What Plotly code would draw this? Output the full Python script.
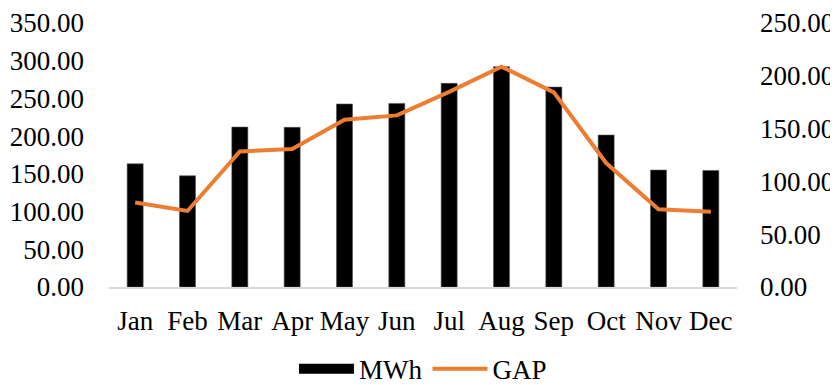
import plotly.graph_objects as go

months = ["Jan", "Feb", "Mar", "Apr", "May", "Jun", "Jul", "Aug", "Sep", "Oct", "Nov", "Dec"]
mwh = [163.3, 147.4, 212.0, 211.7, 242.6, 243.4, 270.0, 292.0, 265.0, 201.4, 155.0, 154.5]
gap = [80.0, 72.0, 128.4, 130.6, 158.4, 162.5, 184.8, 208.7, 184.3, 117.4, 73.7, 71.2]
left_ticks = [0, 50, 100, 150, 200, 250, 300, 350]
right_ticks = [0, 50, 100, 150, 200, 250]

FONT = "Liberation Serif"
FS = 27

fig = go.Figure()
fig.add_trace(go.Bar(x=months, y=mwh, name="MWh", marker=dict(color="black", line=dict(color="#555555", width=0.6)),
                     showlegend=False, yaxis="y"))
fig.add_trace(go.Scatter(x=[None], y=[None], mode="lines", name="MWh",
                         line=dict(color="black", width=14), yaxis="y"))
fig.add_trace(go.Scatter(x=months, y=gap, name="GAP", mode="lines",
                         line=dict(color="#ED7D31", width=4), yaxis="y2"))

fig.update_layout(
    width=830, height=377,
    margin=dict(l=101, r=101, t=15, b=98),
    paper_bgcolor="white", plot_bgcolor="white",
    font=dict(family=FONT, size=FS, color="black"),
    bargap=0.694,
    showlegend=True,
    legend=dict(orientation="h", x=0.5, xanchor="center", xref="paper",
                y=0.042, yanchor="middle", yref="container",
                font=dict(family=FONT, size=FS), itemwidth=55, tracegroupgap=0),
    xaxis=dict(showline=True, linecolor="#d9d9d9", linewidth=1.5, showgrid=False, automargin=False,
               ticks="", ticklabelstandoff=9, tickfont=dict(family=FONT, size=FS)),
    yaxis=dict(range=[0, 350], tickvals=left_ticks, tickformat=".2f", showgrid=False, automargin=False,
               zeroline=False, showline=False, ticks="", ticklabelstandoff=24,
               tickfont=dict(family=FONT, size=FS)),
    yaxis2=dict(range=[0, 250], tickvals=right_ticks, tickformat=".2f", overlaying="y", automargin=False,
                side="right", showgrid=False, zeroline=False, showline=False, ticks="",
                ticklabelstandoff=22, tickfont=dict(family=FONT, size=FS)),
)

fig.write_html("out.html")
